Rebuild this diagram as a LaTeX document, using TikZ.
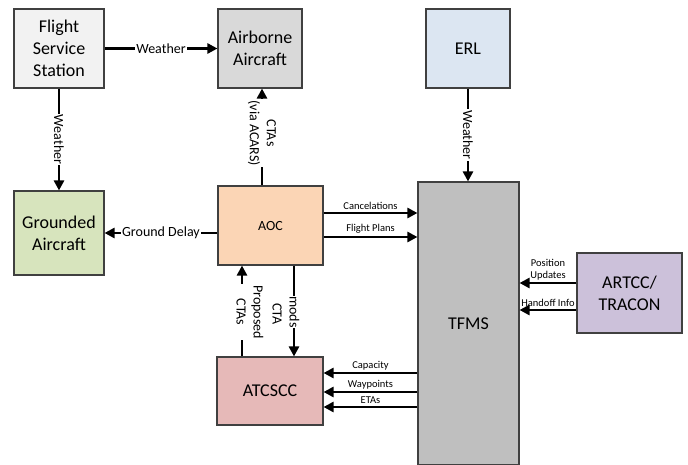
\documentclass[tikz,border=0pt]{standalone}
\usepackage{fontspec}
\setmainfont{Carlito}
\usetikzlibrary{arrows.meta,calc}
\definecolor{cFSS}{HTML}{F2F2F2}
\definecolor{cAA}{HTML}{D9D9D9}
\definecolor{cGA}{HTML}{D7E4BD}
\definecolor{cAOC}{HTML}{FBD5B5}
\definecolor{cATC}{HTML}{E6B9B8}
\definecolor{cERL}{HTML}{DCE6F2}
\definecolor{cTFMS}{HTML}{BFBFBF}
\definecolor{cART}{HTML}{CCC1DA}
\begin{document}
\begin{tikzpicture}[x=1pt,y=-1pt,
  box/.style={draw=black!75, line width=1.1pt, align=center, inner sep=0pt,
    font=\fontsize{18}{22}\selectfont},
  arr/.style={line width=2.6pt, -{Triangle[length=10pt,width=10pt]}},
  lbl/.style={fill=white, inner sep=1pt, align=center, font=\fontsize{14}{17}\selectfont},
  slbl/.style={inner sep=1pt, align=center, font=\fontsize{10.5}{12}\selectfont}]
\useasboundingbox (0,0) rectangle (688,464);
\clip (0,0) rectangle (688,464);
\fill[white] (0,0) rectangle (688,464);
% boxes
\node[box, fill=cFSS, minimum width=90, minimum height=79] (fss) at (59,48.5) {Flight\\Service\\Station};
\node[box, fill=cAA, minimum width=84, minimum height=79] (aa) at (260,48.5) {Airborne\\Aircraft};
\node[box, fill=cERL, minimum width=84, minimum height=79] (erl) at (468,48.5) {ERL};
\node[box, fill=cGA, minimum width=90, minimum height=84] (ga) at (59,233) {Grounded\\Aircraft};
\node[box, fill=cAOC, minimum width=105, minimum height=79, font=\fontsize{14}{17}\selectfont] (aoc) at (270.5,225.5) {AOC};
\node[box, fill=cATC, minimum width=106, minimum height=68] (atc) at (270,391) {ATCSCC};
\node[box, fill=cTFMS, minimum width=101, minimum height=283] (tfms) at (468.5,323.5) {TFMS};
\node[box, fill=cART, minimum width=105, minimum height=80] (art) at (629.5,293) {ARTCC/\\TRACON};
% connectors
\draw[arr] (fss.east |- aa.west) -- (aa.west) node[lbl, midway] {Weather};
\draw[arr] (fss.south) -- (fss.south |- ga.north) node[lbl, midway, rotate=-90] {Weather};
\draw[arr] (erl.south) -- (erl.south |- tfms.north) node[lbl, midway, rotate=-90] {Weather};
\coordinate (c1) at ([xshift=-8.5pt]aoc.north);
\draw[arr] (c1) -- (c1 |- aa.south) node[lbl, pos=0.54, rotate=-90] {CTAs\\(via ACARS)};
\draw[arr] (aoc.west |- ga.east) -- (ga.east) node[lbl, midway] {Ground Delay};
\coordinate (c2) at ([yshift=12.5pt]aoc.east);
\draw[arr] (c2) -- (tfms.west |- c2) node[slbl, midway, above=1pt] {Cancelations};
\coordinate (c3) at ([yshift=-11.5pt]aoc.east);
\draw[arr] (c3) -- (tfms.west |- c3) node[slbl, midway, above=1pt] {Flight Plans};
\coordinate (c4) at ([yshift=10pt]art.west);
\draw[arr] (c4) -- (tfms.east |- c4) node[slbl, midway, above=1pt] {Position\\Updates};
\coordinate (c5) at ([yshift=-17pt]art.west);
\draw[arr] (c5) -- (tfms.east |- c5) node[slbl, midway, above=1pt] {Handoff Info};
\coordinate (c6) at ([yshift=18pt]atc.east);
\draw[arr] (tfms.west |- c6) -- (c6) node[slbl, midway, above=1pt] {Capacity};
\coordinate (c7) at ([yshift=-1pt]atc.east);
\draw[arr] (tfms.west |- c7) -- (c7) node[slbl, midway, above=1pt] {Waypoints};
\coordinate (c8) at ([yshift=-16pt]atc.east);
\draw[arr] (tfms.west |- c8) -- (c8) node[slbl, midway, above=1pt] {ETAs};
\coordinate (c9) at ([xshift=-28pt]atc.north);
\draw[arr] (c9) -- (c9 |- aoc.south);
\node[lbl, rotate=-90] (lprop) at (250,312) {Proposed\\CTAs};
\coordinate (c10) at ([xshift=23.5pt]aoc.south);
\draw[arr] (c10) -- (c10 |- atc.north);
\node[lbl, rotate=-90] (lcta) at (277,314) {CTA};
\node[lbl, rotate=-90, inner sep=0.5pt] (lmods) at (294.5,312) {mods};
\end{tikzpicture}
\end{document}
